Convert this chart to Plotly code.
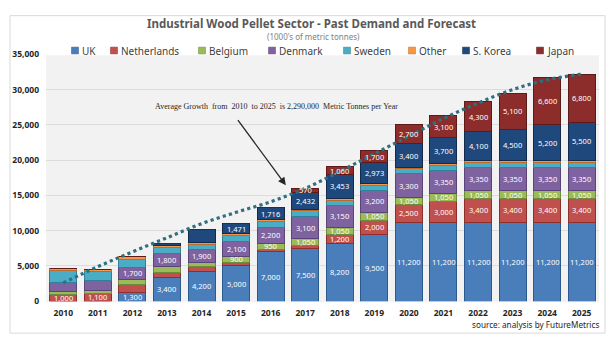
import plotly.graph_objects as go

# Demand by market, thousands of metric tonnes
years = list(range(2010, 2026))
series_names = ["UK", "Netherlands", "Belgium", "Denmark", "Sweden", "Other", "S. Korea", "Japan"]

uk = [0, 0, 1300, 3400, 4200, 5000, 7000, 7500, 8200, 9500, 11200, 11200, 11200, 11200, 11200, 11200]
netherlands = [1000, 1100, 1000, 600, 700, 500, 300, 350, 1200, 2000, 2500, 3000, 3400, 3400, 3400, 3400]
belgium = [400, 400, 800, 900, 550, 900, 950, 1050, 1050, 1050, 1050, 1050, 1050, 1050, 1050, 1050]
denmark = [1200, 1500, 1700, 1800, 1900, 2100, 2200, 3100, 3150, 3200, 3300, 3350, 3350, 3350, 3350, 3350]
sweden = [1800, 1200, 1100, 900, 700, 800, 800, 800, 750, 700, 700, 700, 700, 700, 700, 700]
other = [300, 300, 400, 250, 300, 250, 270, 200, 200, 200, 200, 200, 200, 200, 200, 200]
s_korea = [0, 0, 0, 400, 1800, 1471, 1716, 2432, 3453, 2973, 3400, 3700, 4100, 4500, 5200, 5500]
japan = [0, 0, 0, 0, 0, 0, 0, 570, 1060, 1700, 2700, 3100, 4300, 5100, 6600, 6800]

# Years in which each segment carries a value label
uk_labeled = list(range(2012, 2026))
netherlands_labeled = [2010, 2011] + list(range(2018, 2026))
belgium_labeled = list(range(2015, 2026))
denmark_labeled = list(range(2012, 2026))
sweden_labeled = []
other_labeled = []
s_korea_labeled = list(range(2015, 2026))
japan_labeled = list(range(2017, 2026))

# Polynomial growth trend drawn over the stacks
trend = [2600, 4900, 7000, 9000, 11000, 12600, 14100, 16000, 18400, 20900, 23400, 25900, 28100, 30000, 31400, 32200]

y_ticks = list(range(0, 35001, 5000))

title_text = "Industrial Wood Pellet Sector - Past Demand and Forecast"
subtitle_text = "(1000's of metric tonnes)"
note_text = "Average Growth  from  2010  to 2025  is 2,290,000  Metric Tonnes per Year"
source_text = "source: analysis by FutureMetrics"

values = [uk, netherlands, belgium, denmark, sweden, other, s_korea, japan]
labeled = [uk_labeled, netherlands_labeled, belgium_labeled, denmark_labeled,
           sweden_labeled, other_labeled, s_korea_labeled, japan_labeled]
colors = ["#4A7EBB", "#C0504D", "#9BBB59", "#7F63A1", "#4BACC6", "#F79646", "#1F497D", "#8C2D2B"]
edges = ["#2C5A8F", "#8E2F2C", "#6E8A3A", "#5A4478", "#2F8199", "#C06A24", "#122B4A", "#5E1A18"]

W, H = 614, 342


def px(x):
    return x / W


def py(y):
    return 1 - y / H


fig = go.Figure()

for name, vals, col, edge in zip(series_names, values, colors, edges):
    fig.add_trace(go.Bar(
        x=years, y=vals, name=name, width=0.78,
        marker=dict(color=col, line=dict(color=edge, width=1)),
        showlegend=False, hoverinfo="x+y+name",
    ))

fig.add_trace(go.Scatter(
    x=years, y=trend, mode="lines", line=dict(color="#2E6F80", width=3.2, dash="dot", shape="spline"),
    showlegend=False, hoverinfo="skip",
))

annotations = []
# Value labels at the middle of each stacked segment
base = [0] * len(years)
for vals, yrs in zip(values, labeled):
    for i, (yr, v) in enumerate(zip(years, vals)):
        if yr in yrs and v > 0:
            annotations.append(dict(
                x=yr, y=base[i] + v / 2, xref="x", yref="y", text=f"{v:,}",
                showarrow=False, font=dict(family="Noto Sans", size=7.5, color="white"),
            ))
        base[i] += v

# Title block
annotations.append(dict(x=px(311), y=py(18), xref="paper", yref="paper", text=title_text, showarrow=False,
                        xanchor="center", yanchor="middle",
                        font=dict(family="Noto Sans", size=11.5, color="#595959", weight="bold")))
annotations.append(dict(x=px(313), y=py(31), xref="paper", yref="paper", text=subtitle_text, showarrow=False,
                        xanchor="center", yanchor="middle",
                        font=dict(family="Noto Sans", size=8, color="#7F7F7F")))

# Legend row
legend_x = [75, 114, 202, 272, 347, 412, 466, 540]
shapes = []
for name, col, edge, lx in zip(series_names, colors, edges, legend_x):
    shapes.append(dict(type="rect", xref="paper", yref="paper",
                       x0=px(lx - 3.5), x1=px(lx + 3.5), y0=py(49.5), y1=py(42.5),
                       fillcolor=col, line=dict(color=edge, width=0.5)))
    annotations.append(dict(x=px(lx + 5), y=py(46), xref="paper", yref="paper", text=name,
                            showarrow=False, xanchor="left", yanchor="middle",
                            font=dict(family="Noto Sans", size=10, color="#404040")))

# Growth note with arrow
annotations.append(dict(x=2016.16, y=27590, xref="x", yref="y", text=note_text, showarrow=False,
                        xanchor="center", yanchor="middle",
                        font=dict(family="Liberation Serif", size=8, color="#262626")))
annotations.append(dict(x=2016.44, y=16440, ax=2015.02, ay=25890, xref="x", yref="y",
                        axref="x", ayref="y", text="", showarrow=True, arrowhead=2,
                        arrowsize=1.2, arrowwidth=1.3, arrowcolor="#262626"))

annotations.append(dict(x=px(601), y=py(329), xref="paper", yref="paper", text=source_text,
                        showarrow=False, xanchor="right", yanchor="middle",
                        font=dict(family="Noto Sans", size=8.2, color="#262626")))

# Outer chart frame
shapes.append(dict(type="rect", xref="paper", yref="paper", x0=px(10), x1=px(605), y0=py(338), y1=py(10),
                   line=dict(color="#D9D9D9", width=1), fillcolor="rgba(0,0,0,0)", layer="below"))
# Plot area background
shapes.append(dict(type="rect", xref="paper", yref="paper", x0=px(46), x1=px(599), y0=py(306), y1=py(51),
                   line=dict(width=0), fillcolor="#F2F2F2", layer="below"))

fig.update_layout(
    width=W, height=H, margin=dict(l=0, r=0, t=0, b=0),
    paper_bgcolor="white", plot_bgcolor="rgba(0,0,0,0)",
    barmode="stack", showlegend=False,
    annotations=annotations, shapes=shapes,
    xaxis=dict(domain=[px(46), px(599)], range=[2009.5, 2025.5], tickvals=years,
               ticktext=[str(y) for y in years], showgrid=False, zeroline=False, showline=False,
               ticks="", ticklabelstandoff=5,
               tickfont=dict(family="Noto Sans", size=8.5, color="#262626", weight="bold")),
    yaxis=dict(domain=[1 - 305 / H, 1 - 50 / H], range=[0, 35000], tickvals=y_ticks, tickformat=",",
               showgrid=True, gridcolor="#DCDCDC", gridwidth=1, zeroline=False, showline=False,
               ticks="", ticklabelstandoff=6,
               tickfont=dict(family="Noto Sans", size=8.5, color="#262626", weight="bold")),
)

fig.write_html("out.html")
